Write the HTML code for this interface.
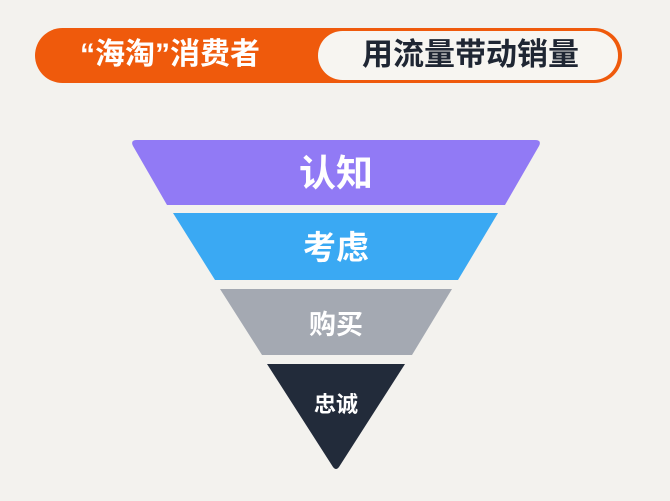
<!DOCTYPE html>
<html><head><meta charset="utf-8"><style>
html,body{margin:0;padding:0;background:#f3f2ee;}
body{width:670px;height:501px;position:relative;overflow:hidden;font-family:"Liberation Sans","Noto Sans CJK SC",sans-serif;}
.pill{position:absolute;left:35px;top:28px;width:587px;height:55px;border-radius:28px;background:#ef5a0c;}
.w{position:absolute;left:318px;top:31px;width:300px;height:49px;border-radius:25px;background:#f7f5f1;}
.t{position:absolute;font-weight:bold;white-space:nowrap;}
</style></head><body>
<div class="pill"></div><div class="w"></div>
<div class="t" style="left:80px;top:36px;font-size:30px;line-height:38px;color:#fff;">“海淘”消费者</div>
<div class="t" style="left:362px;top:36px;font-size:31px;line-height:38px;color:#1f2633;">用流量带动销量</div>
<svg width="670" height="501" style="position:absolute;left:0;top:0">
<path d="M137 140 L535 140 Q542 140 539 146 L505 205 L167 205 L133 146 Q130 140 137 140Z" fill="#917af5"/>
<path d="M173 213 L498 213 L458 280 L215 280Z" fill="#3aa9f3"/>
<path d="M220 289 L452 289 L412 355 L262 355Z" fill="#a4a9b2"/>
<path d="M267 364 L405 364 L339 467 Q336 471 333 467Z" fill="#222b3a"/>
<g font-family="Liberation Sans,Noto Sans CJK SC,sans-serif" font-weight="bold" fill="#fff" text-anchor="middle">
<text x="336" y="186" font-size="37">认知</text>
<text x="336" y="259" font-size="33">考虑</text>
<text x="336" y="334" font-size="27">购买</text>
<text x="336" y="412" font-size="22">忠诚</text>
</g></svg>
</body></html>
